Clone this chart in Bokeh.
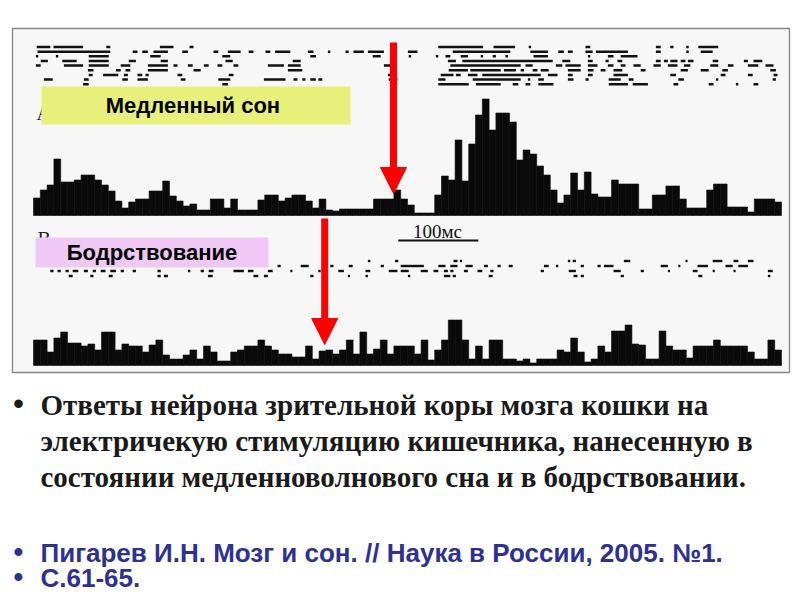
from bokeh.plotting import figure
from bokeh.models import Range1d, Arrow, NormalHead
from bokeh.core.properties import value
from bokeh.embed import file_html
from bokeh.resources import INLINE

# ---------------- data ----------------
BIN_MS = 8.5                     # histogram bin width, ms
SCALE_BAR_MS = [456, 556]        # "100мс" scale bar (time axis, ms)
SCALE_BAR_LABEL = "100мс"
STIM_SLEEP_MS = 450              # stimulus time, slow-wave sleep record
STIM_WAKE_MS = 364               # stimulus time, wakefulness record

# PSTH, slow-wave sleep (counts per bin)
sleep_counts = [15, 23, 28, 54, 31, 31, 33, 38, 38, 33, 28, 22, 12, 5, 11, 14, 14, 22, 22, 32,
                17, 12, 7, 9, 3, 3, 14, 14, 5, 14, 3, 3, 3, 13, 18, 18, 12, 15, 18, 18,
                12, 5, 14, 3, 2, 4, 4, 4, 4, 4, 14, 14, 14, 23, 14, 8, 0, 0, 0, 18,
                37, 33, 73, 32, 69, 98, 114, 83, 100, 100, 91, 53, 63, 59, 47, 38, 23, 10, 18, 40,
                23, 41, 19, 16, 16, 33, 29, 29, 29, 4, 4, 18, 18, 27, 27, 14, 5, 5, 5, 23,
                29, 29, 6, 6, 6, 1, 14, 14, 14, 11]

# PSTH, wakefulness (counts per bin)
wake_counts = [23, 23, 11, 25, 31, 20, 20, 17, 19, 13, 31, 31, 13, 19, 17, 17, 11, 18, 23, 8,
               4, 4, 8, 13, 4, 17, 11, 2, 2, 11, 13, 17, 17, 23, 17, 13, 9, 9, 6, 6,
               17, 4, 12, 13, 9, 13, 23, 9, 31, 9, 14, 23, 9, 17, 17, 17, 9, 23, 3, 13,
               23, 43, 43, 23, 4, 17, 4, 23, 23, 4, 4, 2, 4, 0, 4, 4, 4, 13, 11, 25,
               11, 1, 4, 17, 11, 32, 32, 38, 19, 18, 4, 4, 32, 17, 13, 13, 5, 17, 17, 17,
               23, 17, 17, 17, 17, 11, 4, 4, 23, 13]

# spike rasters: one list of (start_ms, end_ms) bursts per trial
sleep_raster = [
    [(4, 21), (25, 62), (91, 96), (158, 175), (195, 200), (506, 562), (575, 602), (619, 621), (690, 696),
     (778, 784), (796, 800), (816, 819), (831, 856)],
    [(5, 96), (124, 130), (136, 143), (150, 168), (186, 193), (225, 231), (243, 259), (269, 275), (290, 296),
     (302, 321), (343, 350), (368, 371), (390, 394), (400, 413), (418, 438), (468, 480), (524, 596), (621, 643),
     (656, 663), (668, 674), (690, 699), (703, 743), (778, 784), (816, 819), (834, 849)],
    [(3, 6), (28, 31), (69, 94), (146, 159), (236, 246), (346, 353), (424, 434), (469, 471), (503, 506),
     (515, 521), (534, 543), (559, 562), (574, 578), (590, 593), (625, 643), (693, 696), (718, 725), (734, 755)],
    [(9, 18), (36, 54), (69, 94), (119, 128), (159, 168), (240, 249), (324, 334), (518, 528), (536, 649),
     (661, 671), (693, 699), (715, 719), (730, 736), (778, 784), (788, 793), (796, 805), (809, 815), (818, 825),
     (849, 856), (888, 893), (900, 911)],
    [(3, 9), (38, 62), (69, 94), (109, 121), (143, 168), (175, 180), (193, 199), (213, 219), (230, 236),
     (250, 256), (293, 313), (318, 334), (438, 446), (521, 609), (615, 624), (653, 661), (665, 684), (693, 705),
     (718, 725), (734, 740), (750, 759), (775, 784), (793, 805), (813, 821), (846, 856), (868, 875), (893, 906),
     (915, 925)],
    [(68, 75), (103, 109), (115, 121), (143, 168), (200, 209), (318, 336), (519, 543), (546, 584), (588, 603),
     (609, 613), (624, 630), (634, 644), (668, 684), (693, 700), (709, 715), (725, 736), (759, 765), (809, 818),
     (834, 844), (861, 868), (921, 928)],
    [(69, 74), (87, 106), (113, 118), (130, 136), (140, 144), (180, 186), (244, 250), (443, 449), (509, 525),
     (528, 534), (543, 555), (561, 634), (643, 655), (668, 674), (693, 699), (725, 743), (796, 803), (859, 865),
     (893, 899), (925, 930)],
    [(13, 24), (63, 69), (111, 118), (130, 143), (184, 190), (231, 246), (288, 315), (325, 330), (336, 340),
     (346, 353), (356, 361), (444, 455), (506, 515), (549, 609), (618, 621), (631, 638), (668, 675), (690, 694),
     (719, 734), (744, 750), (806, 813), (853, 856), (924, 928)],
    [(62, 69), (236, 243), (506, 544), (553, 584), (599, 606), (615, 621), (631, 650), (719, 743), (749, 768),
     (800, 806), (844, 850), (878, 881), (900, 906)],
]

wake_raster = [
    [(418, 421), (452, 456), (525, 530), (533, 534), (668, 671), (674, 678), (738, 746), (815, 816),
     (849, 861), (875, 881), (893, 900)],
    [(305, 309), (334, 344), (371, 375), (394, 399), (434, 438), (459, 488), (506, 515), (521, 530),
     (540, 549), (563, 568), (580, 584), (594, 599), (638, 644), (653, 656), (684, 688), (705, 709),
     (713, 725), (784, 793), (806, 808), (830, 843), (865, 874), (881, 893)],
    [(21, 25), (30, 34), (40, 44), (49, 56), (63, 68), (74, 78), (84, 90), (96, 103), (109, 113), (124, 128),
     (155, 159), (193, 196), (209, 213), (219, 225), (250, 263), (268, 275), (293, 299), (321, 323), (356, 359),
     (381, 388), (415, 421), (444, 455), (459, 469), (484, 493), (500, 506), (513, 518), (521, 525), (538, 543),
     (555, 561), (571, 575), (634, 638), (669, 678), (725, 734), (759, 763), (793, 794), (824, 830), (849, 850),
     (875, 876), (918, 924)],
    [(44, 49), (71, 75), (94, 99), (155, 159), (163, 168), (218, 224), (275, 281), (288, 293), (346, 350),
     (393, 394), (415, 418), (468, 471), (513, 521), (524, 528), (569, 574), (675, 680), (684, 688), (734, 738),
     (831, 836), (918, 921)],
]

label_sleep = "Медленный  сон"
label_wake = "Бодрствование"
panel_letters = ["А", "В"]
caption_lines = [
    "Ответы нейрона зрительной коры мозга кошки на",
    "электричекую стимуляцию кишечника, нанесенную в",
    "состоянии медленноволнового сна и в бодрствовании.",
]
reference_lines = [
    "Пигарев И.Н. Мозг и сон. // Наука в России, 2005. №1.",
    "С.61-65.",
]

# ---------------- layout / style ----------------
W, H = 800, 600
X0, Y0 = 0, 0                      # base ranges are page pixels (y downwards)
T_ORIGIN_PX = 33.0                 # page x of t = 0
PX_PER_MS = 0.8
RED = "#fe0000"
BLUE = "#2e3192"
SERIF = value("Liberation Serif")
SANS = value("Liberation Sans")

p = figure(width=W, height=H, x_range=Range1d(X0, X0 + W), y_range=Range1d(Y0 + H, Y0),
           output_backend="svg", toolbar_location=None, x_axis_type=None, y_axis_type=None,
           min_border=0, outline_line_color=None, background_fill_color="white",
           border_fill_color="white")


def count_range(base_px):            # 1 count = 1 px, upwards from baseline
    return Range1d(base_px - (Y0 + H), base_px - Y0)


def trial_range(row0_px, step_px):   # trial index increasing downwards
    return Range1d((Y0 + H - row0_px) / step_px, (Y0 - row0_px) / step_px)


p.extra_x_ranges = {"t": Range1d((X0 - T_ORIGIN_PX) / PX_PER_MS, (X0 + W - T_ORIGIN_PX) / PX_PER_MS)}
p.extra_y_ranges = {
    "h_sleep": count_range(212.5),
    "h_wake": count_range(362.5),
    "r_sleep": trial_range(46.5, 4.65),
    "r_wake": trial_range(260.5, 5.0),
}

# scanned figure panel
p.quad(left=12, right=789, top=28, bottom=372, fill_color="#f7f7f7", line_color="#858585", line_width=1.3)


def histogram(counts, yname):
    n = len(counts)
    p.quad(left=[i * BIN_MS for i in range(n)], right=[(i + 1) * BIN_MS for i in range(n)],
           bottom=[-2.5] * n, top=counts, x_range_name="t", y_range_name=yname,
           fill_color="#0a0a0a", line_color="#0a0a0a", line_width=0.6)


def raster(rows, yname, half_h, min_ms):
    L, R, T, B = [], [], [], []
    for k, segs in enumerate(rows):
        for s, e in segs:
            L.append(s)
            R.append(max(e, s + min_ms))
            T.append(k - half_h)
            B.append(k + half_h)
    p.quad(left=L, right=R, top=T, bottom=B, x_range_name="t", y_range_name=yname,
           fill_color="#111111", line_color=None)


histogram(sleep_counts, "h_sleep")
histogram(wake_counts, "h_wake")
raster(sleep_raster, "r_sleep", 0.27, 3.0)
raster(wake_raster, "r_wake", 0.24, 2.6)

# scale bar
p.segment(x0=[SCALE_BAR_MS[0]], x1=[SCALE_BAR_MS[1]], y0=[240], y1=[240], x_range_name="t",
          line_color="#111111", line_width=2)
p.text(x=[(SCALE_BAR_MS[0] + SCALE_BAR_MS[1]) / 2 - 1], y=[231], text=[SCALE_BAR_LABEL], x_range_name="t",
       text_font=SERIF, text_font_size="19px", text_align="center", text_baseline="middle",
       text_color="#111111")

# panel letters (mostly hidden under the coloured labels)
p.text(x=[36, 37], y=[112, 238], text=panel_letters, text_font=SERIF, text_font_size="20px",
       text_align="left", text_baseline="middle", text_color="#222222")

# coloured state labels
p.quad(left=[41], right=[350], top=[86], bottom=[124], fill_color="#e8f07c", line_color=None)
p.quad(left=[35], right=[268], top=[237], bottom=[267], fill_color="#efc8f6", line_color=None)
p.text(x=[195.5, 151.5], y=[105, 252], text=[label_sleep, label_wake], text_font=SANS,
       text_font_style="bold", text_font_size="22px", text_align="center", text_baseline="middle",
       text_color="black")

# stimulus arrows
for stim, ys, ye in [(STIM_SLEEP_MS, 42, 193), (STIM_WAKE_MS, 218, 344)]:
    p.add_layout(Arrow(end=NormalHead(size=26, fill_color=RED, line_color=RED, line_width=1),
                       x_start=stim, x_end=stim, y_start=ys, y_end=ye, x_range_name="t",
                       line_color=RED, line_width=7))

# caption
cap_y = [404, 440, 476]
p.text(x=[18], y=[403], text=["•"], text_font=SANS, text_font_style="bold", text_font_size="30px",
       text_align="center", text_baseline="middle", text_color="#1a1a1a")
p.text(x=[40] * 3, y=cap_y, text=caption_lines, text_font=SERIF, text_font_style="bold",
       text_font_size="29px", text_align="left", text_baseline="middle", text_color="#1a1a1a")

ref_y = [552, 577]
p.text(x=[18, 18], y=[551, 576], text=["•", "•"], text_font=SANS, text_font_style="bold",
       text_font_size="28px", text_align="center", text_baseline="middle", text_color=BLUE)
p.text(x=[40, 40], y=ref_y, text=reference_lines, text_font=SANS, text_font_style="bold",
       text_font_size="26px", text_align="left", text_baseline="middle", text_color=BLUE)

open("out.html", "w").write(file_html(p, INLINE))
